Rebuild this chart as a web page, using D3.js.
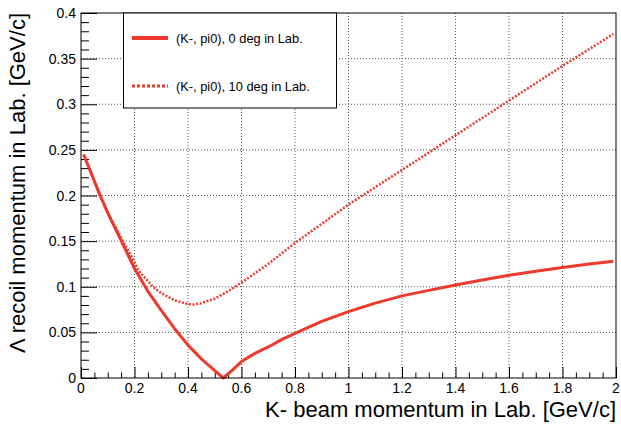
<!DOCTYPE html>
<html lang="en">
<head>
<meta charset="utf-8">
<title>Lambda recoil momentum</title>
<script src="https://d3js.org/d3.v7.min.js"></script>
<style>
  body { margin: 0; background: #fff; }
  text { font-family: "Liberation Sans", Arial, sans-serif; }
</style>
</head>
<body>
<script>

// K- beam momentum [GeV/c] and Lambda recoil momentum [GeV/c]
var beam0 = [0.01, 0.07, 0.10, 0.151, 0.20, 0.25, 0.30, 0.35, 0.40, 0.45, 0.50, 0.532,
             0.56, 0.60, 0.65, 0.70, 0.75, 0.80, 0.90, 1.00, 1.10, 1.20, 1.30, 1.40, 1.50,
             1.60, 1.70, 1.80, 1.90, 1.99];
var recoil0 = [0.245, 0.201, 0.181, 0.150, 0.120, 0.095, 0.074, 0.054, 0.036, 0.021, 0.008, 0.0,
               0.007, 0.018, 0.027, 0.034, 0.042, 0.049, 0.062, 0.0727, 0.082, 0.090, 0.096, 0.102, 0.1075,
               0.1125, 0.117, 0.121, 0.125, 0.128];

var beam10 = [0.01, 0.05, 0.10, 0.157, 0.20, 0.214, 0.269, 0.30, 0.35, 0.40, 0.42, 0.45, 0.50, 0.55,
              0.576, 0.60, 0.70, 0.80, 0.90, 1.00, 1.20, 1.40, 1.60, 1.80, 1.99];
var recoil10 = [0.245, 0.216, 0.181, 0.150, 0.127, 0.118, 0.100, 0.093, 0.085, 0.081, 0.0805, 0.082, 0.087, 0.095,
                0.100, 0.1045, 0.125, 0.148, 0.169, 0.190, 0.228, 0.266, 0.304, 0.342, 0.377];

var legendLabels = ["(K-, pi0), 0 deg in Lab.", "(K-, pi0), 10 deg in Lab."];
var xTicks = [0, 0.2, 0.4, 0.6, 0.8, 1, 1.2, 1.4, 1.6, 1.8, 2];
var yTicks = [0, 0.05, 0.1, 0.15, 0.2, 0.25, 0.3, 0.35, 0.4];

var w = 621, h = 430;
var fLeft = 81, fRight = 616, fTop = 13, fBottom = 378;
var red = "#ec3a2c";

var svg = d3.select("body").append("svg")
  .attr("width", w)
  .attr("height", h);

var x = d3.scaleLinear().domain([0, 2]).range([fLeft, fRight]);
var y = d3.scaleLinear().domain([0, 0.4]).range([fBottom, fTop]);

// grid (dotted, at major ticks)
svg.append("g").selectAll("line")
  .data(xTicks.slice(1, -1))
  .enter().append("line")
  .attr("x1", d => x(d)).attr("x2", d => x(d))
  .attr("y1", fTop).attr("y2", fBottom)
  .attr("stroke", "#555").attr("stroke-width", 1)
  .attr("stroke-dasharray", "1,2");

svg.append("g").selectAll("line")
  .data(yTicks.slice(1, -1))
  .enter().append("line")
  .attr("x1", fLeft).attr("x2", fRight)
  .attr("y1", d => y(d)).attr("y2", d => y(d))
  .attr("stroke", "#555").attr("stroke-width", 1)
  .attr("stroke-dasharray", "1,2");

// axes, ROOT style: long major ticks, short minor ticks, inside the frame
var xMinor = d3.range(0, 41).map(i => i * 0.05).filter(v => Math.round(v * 100) % 20 != 0);
var yMinor = d3.range(0, 41).map(i => i * 0.01).filter(v => Math.round(v * 100) % 5 != 0);

var xAxis = svg.append("g")
  .attr("transform", "translate(0," + fBottom + ")")
  .call(d3.axisTop(x).tickValues(xTicks).tickSize(11).tickFormat(""));
var xAxisMinor = svg.append("g")
  .attr("transform", "translate(0," + fBottom + ")")
  .call(d3.axisTop(x).tickValues(xMinor).tickSize(5.5).tickFormat(""));
var yAxis = svg.append("g")
  .attr("transform", "translate(" + fLeft + ",0)")
  .call(d3.axisRight(y).tickValues(yTicks).tickSize(16).tickFormat(""));
var yAxisMinor = svg.append("g")
  .attr("transform", "translate(" + fLeft + ",0)")
  .call(d3.axisRight(y).tickValues(yMinor).tickSize(8).tickFormat(""));

[xAxis, xAxisMinor, yAxis, yAxisMinor].forEach(function(g) {
  g.select(".domain").remove();
  g.selectAll("line").attr("stroke", "#000").attr("stroke-width", 1);
});

// tick labels
svg.append("g").selectAll("text")
  .data(xTicks)
  .enter().append("text")
  .attr("x", d => x(d))
  .attr("y", 393)
  .attr("text-anchor", "middle")
  .attr("font-size", "14px")
  .text(d => d3.format("")(d));

svg.append("g").selectAll("text")
  .data(yTicks)
  .enter().append("text")
  .attr("x", 76)
  .attr("y", d => y(d) + 5)
  .attr("text-anchor", "end")
  .attr("font-size", "14px")
  .text(d => d3.format("")(d));

// curves
var line = d3.line().x(d => x(d[0])).y(d => y(d[1]));

svg.append("path")
  .datum(d3.zip(beam0, recoil0))
  .attr("d", line)
  .attr("fill", "none")
  .attr("stroke", red)
  .attr("stroke-width", 3)
  .attr("stroke-linejoin", "round");

svg.append("path")
  .datum(d3.zip(beam10, recoil10))
  .attr("d", line)
  .attr("fill", "none")
  .attr("stroke", red)
  .attr("stroke-width", 2.5)
  .attr("stroke-dasharray", "2,1.6");

// frame
svg.append("rect")
  .attr("x", fLeft).attr("y", fTop)
  .attr("width", fRight - fLeft).attr("height", fBottom - fTop)
  .attr("fill", "none").attr("stroke", "#000").attr("stroke-width", 1);

// legend
var leg = svg.append("g");
leg.append("rect")
  .attr("x", 123.5).attr("y", fTop)
  .attr("width", 213).attr("height", 95)
  .attr("fill", "#fff").attr("stroke", "#000").attr("stroke-width", 1);

leg.selectAll("line")
  .data(legendLabels)
  .enter().append("line")
  .attr("x1", 132).attr("x2", 168)
  .attr("y1", (d, i) => 38 + i * 48).attr("y2", (d, i) => 38 + i * 48)
  .attr("stroke", red)
  .attr("stroke-width", (d, i) => i == 0 ? 4 : 3)
  .attr("stroke-dasharray", (d, i) => i == 0 ? null : "3,2");

leg.selectAll("text")
  .data(legendLabels)
  .enter().append("text")
  .attr("x", 176)
  .attr("y", (d, i) => 42.5 + i * 48)
  .attr("font-size", "12.8px")
  .text(d => d);

// axis titles
svg.append("text")
  .attr("x", fRight)
  .attr("y", 417)
  .attr("text-anchor", "end")
  .attr("font-size", "22px")
  .text("K- beam momentum in Lab. [GeV/c]");

svg.append("text")
  .attr("transform", "translate(25," + fTop + ") rotate(-90)")
  .attr("text-anchor", "end")
  .attr("font-size", "22px")
  .text("Λ recoil momentum in Lab. [GeV/c]");

</script>
</body>
</html>
